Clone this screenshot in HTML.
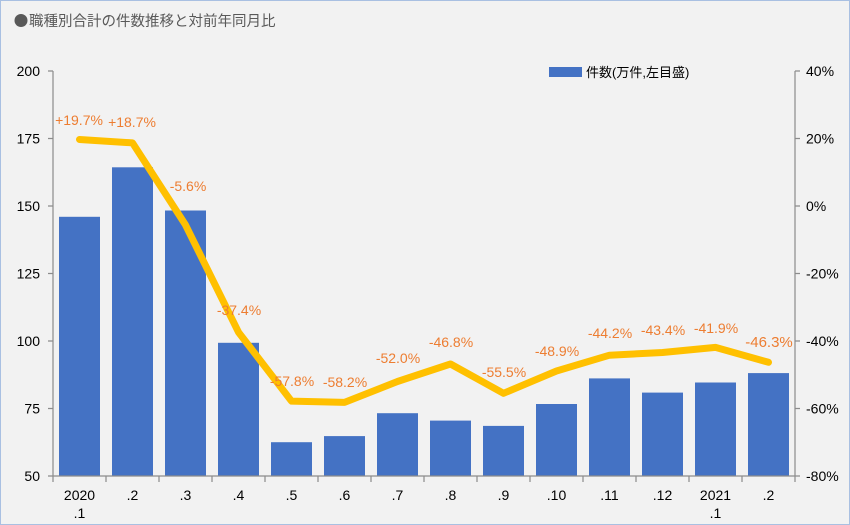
<!DOCTYPE html><html><head><meta charset="utf-8"><style>
body{margin:0;background:#fff}
svg{display:block;font-family:"Liberation Sans","Noto Sans CJK JP",sans-serif}
</style></head><body>
<svg width="850" height="525" viewBox="0 0 850 525">
<rect x="0.5" y="0.5" width="849" height="524" fill="#f2f2f2" stroke="#a9c0e2"/>
<circle cx="21" cy="20.5" r="6.5" fill="#595959"/>
<text x="29" y="26" font-size="14.5" fill="#595959">職種別合計の件数推移と対前年同月比</text>
<g fill="#4472c4">
<rect x="59" y="216.8" width="41" height="259.2"/>
<rect x="112" y="167.3" width="41" height="308.7"/>
<rect x="165" y="210.5" width="41" height="265.5"/>
<rect x="218" y="342.8" width="41" height="133.2"/>
<rect x="271" y="442.2" width="41" height="33.8"/>
<rect x="324" y="436.1" width="41" height="39.9"/>
<rect x="377" y="413.2" width="41" height="62.8"/>
<rect x="430" y="420.6" width="41" height="55.4"/>
<rect x="483" y="425.9" width="41" height="50.1"/>
<rect x="536" y="404.0" width="41" height="72.0"/>
<rect x="589" y="378.4" width="41" height="97.6"/>
<rect x="642" y="392.6" width="41" height="83.4"/>
<rect x="695" y="382.5" width="41" height="93.5"/>
<rect x="748" y="373.1" width="41" height="102.9"/>
</g>
<g stroke="#8c8c8c" stroke-width="1.2" fill="none">
<line x1="53" y1="71" x2="53" y2="476"/>
<line x1="795" y1="71" x2="795" y2="476"/>
<line x1="53" y1="476" x2="795" y2="476"/>
<path d="M48 71H53M48 138.5H53M48 206H53M48 273.5H53M48 341H53M48 408.5H53M48 476H53"/>
<path d="M795 71H800M795 138.5H800M795 206H800M795 273.5H800M795 341H800M795 408.5H800M795 476H800"/>
<path d="M53 476V482M106 476V482M159 476V482M212 476V482M265 476V482M318 476V482M371 476V482M424 476V482M477 476V482M530 476V482M583 476V482M636 476V482M689 476V482M742 476V482M795 476V482"/>
</g>
<g font-size="14" fill="#000" text-anchor="end">
<text x="40" y="76">200</text><text x="40" y="143.5">175</text><text x="40" y="211">150</text><text x="40" y="278.5">125</text><text x="40" y="346">100</text><text x="40" y="413.5">75</text><text x="40" y="481">50</text>
</g>
<g font-size="14" fill="#000">
<text x="806" y="76">40%</text><text x="806" y="143.5">20%</text><text x="806" y="211">0%</text><text x="806" y="278.5">-20%</text><text x="806" y="346">-40%</text><text x="806" y="413.5">-60%</text><text x="806" y="481">-80%</text>
</g>
<g font-size="14" fill="#000" text-anchor="middle">
<text x="79.5" y="500">2020</text><text x="79.5" y="518">.1</text>
<text x="132.5" y="500">.2</text><text x="185.5" y="500">.3</text><text x="238.5" y="500">.4</text><text x="291.5" y="500">.5</text><text x="344.5" y="500">.6</text><text x="397.5" y="500">.7</text><text x="450.5" y="500">.8</text><text x="503.5" y="500">.9</text><text x="556.5" y="500">.10</text><text x="609.5" y="500">.11</text><text x="662.5" y="500">.12</text>
<text x="715.5" y="500">2021</text><text x="715.5" y="518">.1</text>
<text x="768.5" y="500">.2</text>
</g>
<polyline fill="none" stroke="#ffc000" stroke-width="7" stroke-linejoin="round" stroke-linecap="round" points="79.5,139.5 132.5,142.9 185.5,224.9 238.5,332.2 291.5,401.1 344.5,402.4 397.5,381.5 450.5,364.0 503.5,393.3 556.5,371.0 609.5,355.2 662.5,352.5 715.5,347.4 768.5,362.3"/>
<g font-size="14" fill="#ed7d31" text-anchor="middle">
<text x="79" y="125">+19.7%</text><text x="132" y="127">+18.7%</text><text x="188" y="191">-5.6%</text><text x="239" y="315">-37.4%</text><text x="292" y="386">-57.8%</text><text x="345" y="387">-58.2%</text><text x="398" y="363">-52.0%</text><text x="451" y="347">-46.8%</text><text x="504" y="377">-55.5%</text><text x="557" y="356">-48.9%</text><text x="610" y="338">-44.2%</text><text x="663" y="335">-43.4%</text><text x="716" y="333">-41.9%</text><text x="769" y="347" font-size="15">-46.3%</text>
</g>
<rect x="549" y="67" width="33" height="10" fill="#4472c4"/>
<text x="586" y="77" font-size="13" fill="#000">件数(万件,左目盛)</text>
</svg>
</body></html>
